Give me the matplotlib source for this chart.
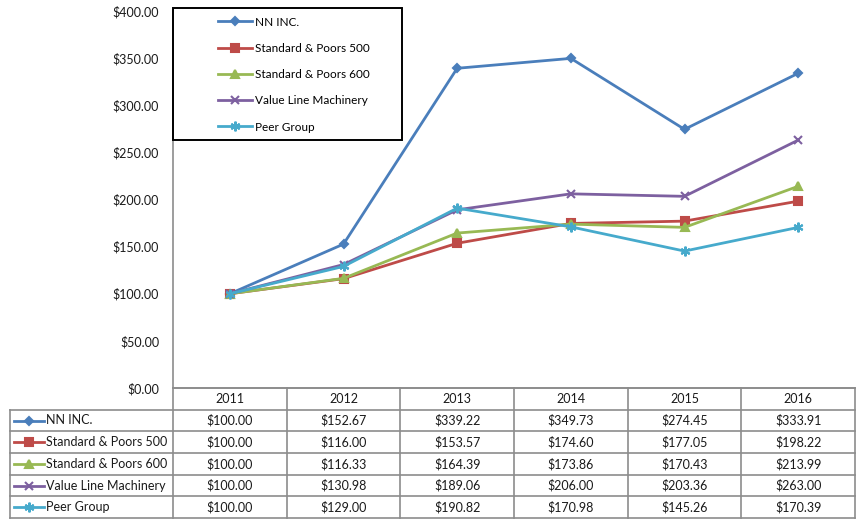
import matplotlib
matplotlib.use('Agg')
import matplotlib.pyplot as plt
from matplotlib.patches import Rectangle

plt.rcParams['font.family'] = ['Lato', 'DejaVu Sans']
plt.rcParams['font.size'] = 9

years = ['2011', '2012', '2013', '2014', '2015', '2016']
series_names = ['NN INC.', 'Standard & Poors 500', 'Standard & Poors 600',
                'Value Line Machinery', 'Peer Group']
nn_inc = [100.00, 152.67, 339.22, 349.73, 274.45, 333.91]
sp500 = [100.00, 116.00, 153.57, 174.60, 177.05, 198.22]
sp600 = [100.00, 116.33, 164.39, 173.86, 170.43, 213.99]
value_line = [100.00, 130.98, 189.06, 206.00, 203.36, 263.00]
peer_group = [100.00, 129.00, 190.82, 170.98, 145.26, 170.39]
y_ticks = [0, 50, 100, 150, 200, 250, 300, 350, 400]

all_series = [nn_inc, sp500, sp600, value_line, peer_group]
colors = ['#4A7EBB', '#BE4B48', '#98B954', '#7D60A0', '#46AACC']
markers = ['D', 's', '^', 'x', (6, 2, 0)]
msizes = [4.5, 5.5, 6, 6, 7]

W, H = 859, 520
grid_col = '#8c8c8c'
txt_col = '#1a1a1a'

def fx(px):
    return px / W

def fy(py):
    return 1 - py / H

fig = plt.figure(figsize=(W / 100, H / 100), dpi=100)

# main chart area
ax = fig.add_axes([fx(173), fy(388), 682 / W, 377 / H])
xpos = [i + 0.5 for i in range(len(years))]
for vals, name, c, m, ms in zip(all_series, series_names, colors, markers, msizes):
    ax.plot(xpos, vals, color=c, lw=2, marker=m, ms=ms, mew=1.5,
            mec=c, mfc=c, label=name)
ax.set_xlim(0, 6)
ax.set_ylim(0, 400)
ax.set_yticks(y_ticks)
ax.set_yticklabels(['${:.2f}'.format(v) for v in y_ticks], color=txt_col)
ax.set_xticks([])
ax.tick_params(axis='y', length=0, pad=10)
for s in ['top', 'right']:
    ax.spines[s].set_visible(False)
for s in ['left', 'bottom']:
    ax.spines[s].set_color(grid_col)
    ax.spines[s].set_linewidth(1.2)

# legend box
fig.add_artist(Rectangle((fx(173), fy(140)), 229 / W, 132 / H,
                         transform=fig.transFigure, fill=False,
                         edgecolor='black', lw=1.4, zorder=5))
ax.legend(loc='upper left', bbox_to_anchor=(fx(207), fy(6)),
          bbox_transform=fig.transFigure, frameon=False,
          handlelength=2.9, handletextpad=0.3, labelspacing=1.29,
          fontsize=8.5)

# data table
tax = fig.add_axes([fx(10), fy(518), 845 / W, 130 / H])
lab_w = 163 / (682 / 6)
tax.set_xlim(-lab_w, 6)
tax.set_ylim(6, 0)
tax.axis('off')
lk = dict(color=grid_col, lw=1.2, clip_on=False)
tax.plot([0, 6], [0, 0], **lk)
for r in range(1, 7):
    tax.plot([-lab_w, 6], [r, r], **lk)
tax.plot([-lab_w, -lab_w], [1, 6], **lk)
for c in range(7):
    tax.plot([c, c], [0, 6], **lk)

for i, yr in enumerate(years):
    tax.text(i + 0.5, 0.5, yr, ha='center', va='center', color=txt_col)

unit = 1 / (682 / 6)
for r, (vals, name, c, m, ms) in enumerate(
        zip(all_series, series_names, colors, markers, msizes), start=1):
    x0 = -lab_w + 4 * unit
    x1 = -lab_w + 34 * unit
    tax.plot([x0, x1], [r + 0.5, r + 0.5], color=c, lw=2)
    tax.plot([(x0 + x1) / 2], [r + 0.5], color=c, marker=m, ms=ms, mew=1.5)
    tax.text(-lab_w + 36 * unit, r + 0.5, name, ha='left', va='center',
             color=txt_col)
    for i, v in enumerate(vals):
        tax.text(i + 0.5, r + 0.5, '${:.2f}'.format(v), ha='center',
                 va='center', color=txt_col)

fig.savefig('out.png', dpi=100)
